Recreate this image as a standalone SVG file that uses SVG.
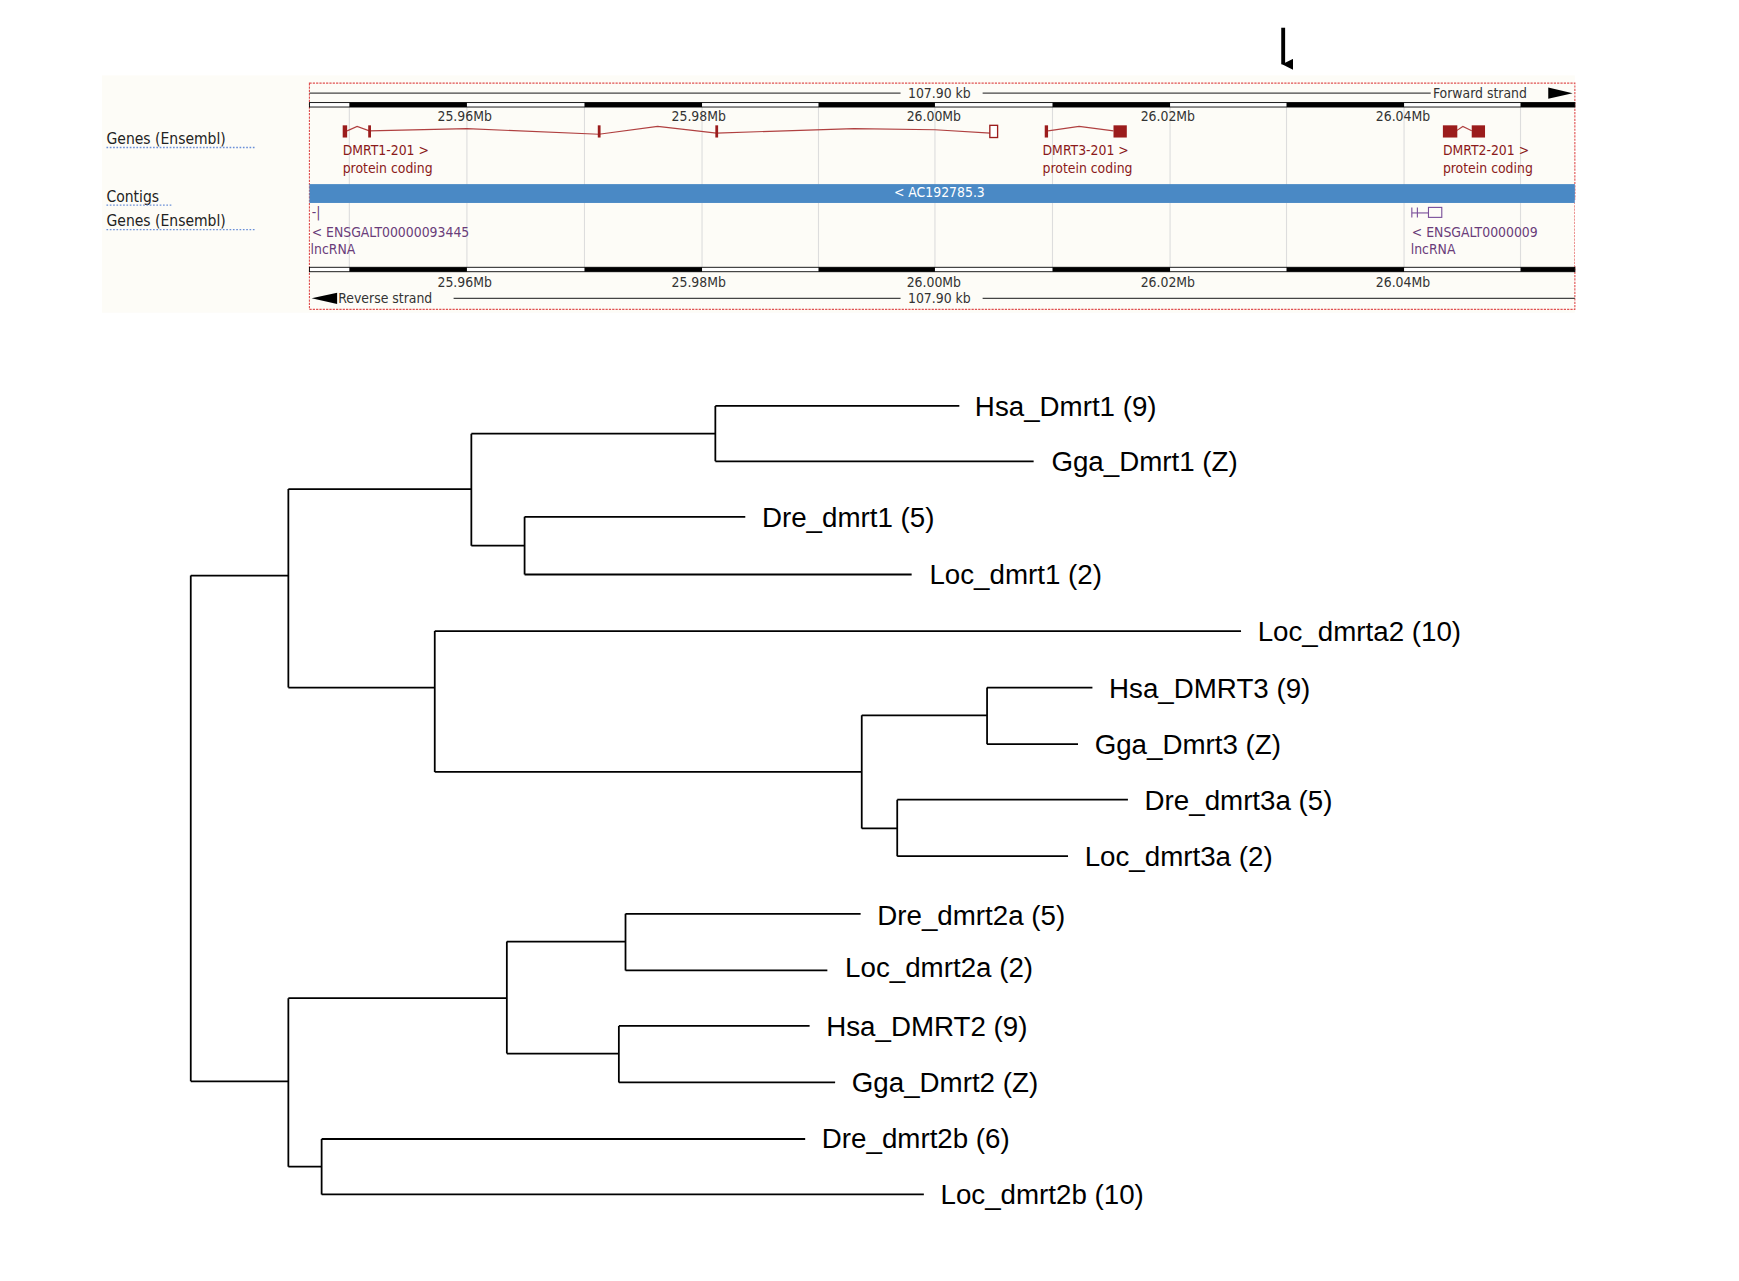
<svg xmlns="http://www.w3.org/2000/svg" width="1739" height="1281" viewBox="0 0 1739 1281">
<defs>
<style>
.t{font-family:"DejaVu Sans Condensed","DejaVu Sans",sans-serif;font-size:12.5px}
.sc{fill:#333}
.gn{fill:#8b1a1a}
.lnc{fill:#6a3d7a}
.lab{font-family:"DejaVu Sans Condensed","DejaVu Sans",sans-serif;font-size:14px;fill:#222}
.ul{stroke:#6a8fd8;stroke-width:1.2;stroke-dasharray:1.5 1.5}
.grid{stroke:#ddd;stroke-width:1}
.br{stroke:#000;stroke-width:1.6;fill:none}
.leaf{font-family:"Liberation Sans",Arial,sans-serif;font-size:25px;fill:#000}
</style>
<marker id="ah" markerWidth="10" markerHeight="10" refX="5" refY="9" orient="auto" markerUnits="userSpaceOnUse" viewBox="0 0 10 10"><path d="M0,0 L10,0 L5,10 z" fill="#000"/></marker>
</defs>
<rect width="1739" height="1281" fill="#fff"/>
<g transform="scale(1.10906)">
<g id="track">
<rect x="92" y="68" width="1328" height="214" fill="#fdfcf7"/>
<g class="grid">
<line x1="315" y1="96" x2="315" y2="242"/><line x1="421" y1="96" x2="421" y2="242"/><line x1="527" y1="96" x2="527" y2="242"/><line x1="633" y1="96" x2="633" y2="242"/><line x1="738" y1="96" x2="738" y2="242"/><line x1="843" y1="96" x2="843" y2="242"/><line x1="949" y1="96" x2="949" y2="242"/><line x1="1055" y1="96" x2="1055" y2="242"/><line x1="1160" y1="96" x2="1160" y2="242"/><line x1="1266" y1="96" x2="1266" y2="242"/><line x1="1371" y1="96" x2="1371" y2="242"/>
</g>
<rect x="279" y="75" width="1141" height="204" fill="none" stroke="#e05050" stroke-width="1" stroke-dasharray="2 1"/>
<text class="lab" x="96" y="130">Genes (Ensembl)</text><line class="ul" x1="96" y1="133" x2="230" y2="133"/>
<text class="lab" x="96" y="182">Contigs</text><line class="ul" x1="96" y1="185" x2="156" y2="185"/>
<text class="lab" x="96" y="204">Genes (Ensembl)</text><line class="ul" x1="96" y1="207" x2="230" y2="207"/>
<!-- top scale -->
<line x1="279" y1="84" x2="812" y2="84" stroke="#444"/><line x1="886" y1="84" x2="1290" y2="84" stroke="#444"/>
<text class="t sc" x="847" y="88" text-anchor="middle">107.90 kb</text>
<text class="t sc" x="1292" y="88">Forward strand</text>
<path d="M1396,79 L1418,84 L1396,89 z" fill="#000"/>
<g id="rulerTop">
<rect x="279" y="92.5" width="1141" height="4" fill="#fff" stroke="#000" stroke-width="0.8"/>
<rect x="315" y="92.5" width="106" height="4"/><rect x="527" y="92.5" width="106" height="4"/><rect x="738" y="92.5" width="105" height="4"/><rect x="949" y="92.5" width="106" height="4"/><rect x="1160" y="92.5" width="106" height="4"/><rect x="1371" y="92.5" width="49" height="4"/>
</g>
<g class="t sc" text-anchor="middle">
<text x="419" y="109">25.96Mb</text><text x="630" y="109">25.98Mb</text><text x="842" y="109">26.00Mb</text><text x="1053" y="109">26.02Mb</text><text x="1265" y="109">26.04Mb</text>
</g>
<!-- genes -->
<g id="genes" stroke="#b04040" fill="#9b1c1c">
<polyline points="313,118 322,114 333,118 421,116 540,121 593,114 646,120 770,116 843,117 893,120" fill="none" stroke-width="1"/>
<rect x="309" y="113" width="4" height="11" stroke="none"/><rect x="332" y="113" width="2.5" height="11" stroke="none"/>
<rect x="539" y="113" width="2.5" height="11" stroke="none"/><rect x="645" y="113" width="2.5" height="11" stroke="none"/>
<rect x="892.5" y="113" width="7" height="11" fill="#fff" stroke="#9b1c1c" stroke-width="1.2"/>
<polyline points="945,118 973,114 1004,118" fill="none" stroke-width="1"/>
<rect x="942" y="113" width="3" height="11" stroke="none"/><rect x="1004" y="113" width="12" height="11" stroke="none"/>
<polyline points="1313,118 1319,114 1327,118" fill="none" stroke-width="1"/>
<rect x="1301" y="113" width="13" height="11" stroke="none"/><rect x="1327" y="113" width="12" height="11" stroke="none"/>
</g>
<g class="t gn">
<text x="309" y="140">DMRT1-201 &gt;</text><text x="309" y="156">protein coding</text>
<text x="940" y="140">DMRT3-201 &gt;</text><text x="940" y="156">protein coding</text>
<text x="1301" y="140">DMRT2-201 &gt;</text><text x="1301" y="156">protein coding</text>
</g>
<rect x="279" y="166" width="1141" height="17" fill="#4a89c5"/>
<text class="t" x="847" y="178" fill="#fff" text-anchor="middle">&lt; AC192785.3</text>
<g class="t lnc">
<text x="281" y="196">-|</text>
<text x="281" y="214">&lt; ENSGALT00000093445</text><text x="280" y="229">lncRNA</text>
<text x="1273" y="214">&lt; ENSGALT0000009</text><text x="1272" y="229">lncRNA</text>
</g>
<g stroke="#7a4f9a" fill="none" stroke-width="1"><line x1="1273" y1="187" x2="1273" y2="196"/><line x1="1278" y1="187" x2="1278" y2="196"/><line x1="1273" y1="192" x2="1288" y2="192"/><rect x="1288" y="187" width="12" height="9"/></g>
<rect x="1420" y="180" width="8" height="60" fill="#fff"/>
<g id="rulerBot">
<rect x="279" y="241" width="1141" height="4" fill="#fff" stroke="#000" stroke-width="0.8"/>
<rect x="315" y="241" width="106" height="4"/><rect x="527" y="241" width="106" height="4"/><rect x="738" y="241" width="105" height="4"/><rect x="949" y="241" width="106" height="4"/><rect x="1160" y="241" width="106" height="4"/><rect x="1371" y="241" width="49" height="4"/>
</g>
<g class="t sc" text-anchor="middle">
<text x="419" y="259">25.96Mb</text><text x="630" y="259">25.98Mb</text><text x="842" y="259">26.00Mb</text><text x="1053" y="259">26.02Mb</text><text x="1265" y="259">26.04Mb</text>
</g>
<path d="M281,269 L304,264 L304,274 z" fill="#000"/>
<text class="t sc" x="305" y="273">Reverse strand</text>
<line x1="409" y1="269" x2="812" y2="269" stroke="#444"/><line x1="886" y1="269" x2="1420" y2="269" stroke="#444"/>
<text class="t sc" x="847" y="273" text-anchor="middle">107.90 kb</text>
</g>
<g id="arrow"><line x1="1157" y1="25" x2="1157" y2="58" stroke="#000" stroke-width="3.5" marker-end="url(#ah)"/></g>
<g id="connectors" class="br">
<path d="M645,366 H865 M645,416 H932 M645,366 V416 M425,391 H645"/>
<path d="M473,466 H672 M473,518 H822 M473,466 V518 M425,492 H473"/>
<path d="M425,391 V492 M260,441 H425"/>
<path d="M392,569 H1119"/>
<path d="M890,620 H985 M890,671 H972 M890,620 V671 M777,645 H890"/>
<path d="M809,721 H1017 M809,772 H963 M809,721 V772 M777,747 H809"/>
<path d="M777,645 V747 M392,696 H777 M392,569 V696 M260,620 H392 M260,441 V620 M172,519 H260"/>
<path d="M564,824 H776 M564,875 H746 M564,824 V875 M457,849 H564"/>
<path d="M558,925 H730 M558,976 H753 M558,925 V976 M457,950 H558"/>
<path d="M457,849 V950 M260,900 H457"/>
<path d="M290,1027 H726 M290,1077 H833 M290,1027 V1077 M260,1052 H290"/>
<path d="M260,900 V1052 M172,975 H260 M172,519 V975"/>
</g>
<g id="leaves" class="leaf">
<text x="879" y="375">Hsa_Dmrt1 (9)</text>
<text x="948" y="425">Gga_Dmrt1 (Z)</text>
<text x="687" y="475">Dre_dmrt1 (5)</text>
<text x="838" y="527">Loc_dmrt1 (2)</text>
<text x="1134" y="578">Loc_dmrta2 (10)</text>
<text x="1000" y="629">Hsa_DMRT3 (9)</text>
<text x="987" y="680">Gga_Dmrt3 (Z)</text>
<text x="1032" y="730">Dre_dmrt3a (5)</text>
<text x="978" y="781">Loc_dmrt3a (2)</text>
<text x="791" y="834">Dre_dmrt2a (5)</text>
<text x="762" y="881">Loc_dmrt2a (2)</text>
<text x="745" y="934">Hsa_DMRT2 (9)</text>
<text x="768" y="985">Gga_Dmrt2 (Z)</text>
<text x="741" y="1035">Dre_dmrt2b (6)</text>
<text x="848" y="1086">Loc_dmrt2b (10)</text>
</g>
</g>
</svg>
